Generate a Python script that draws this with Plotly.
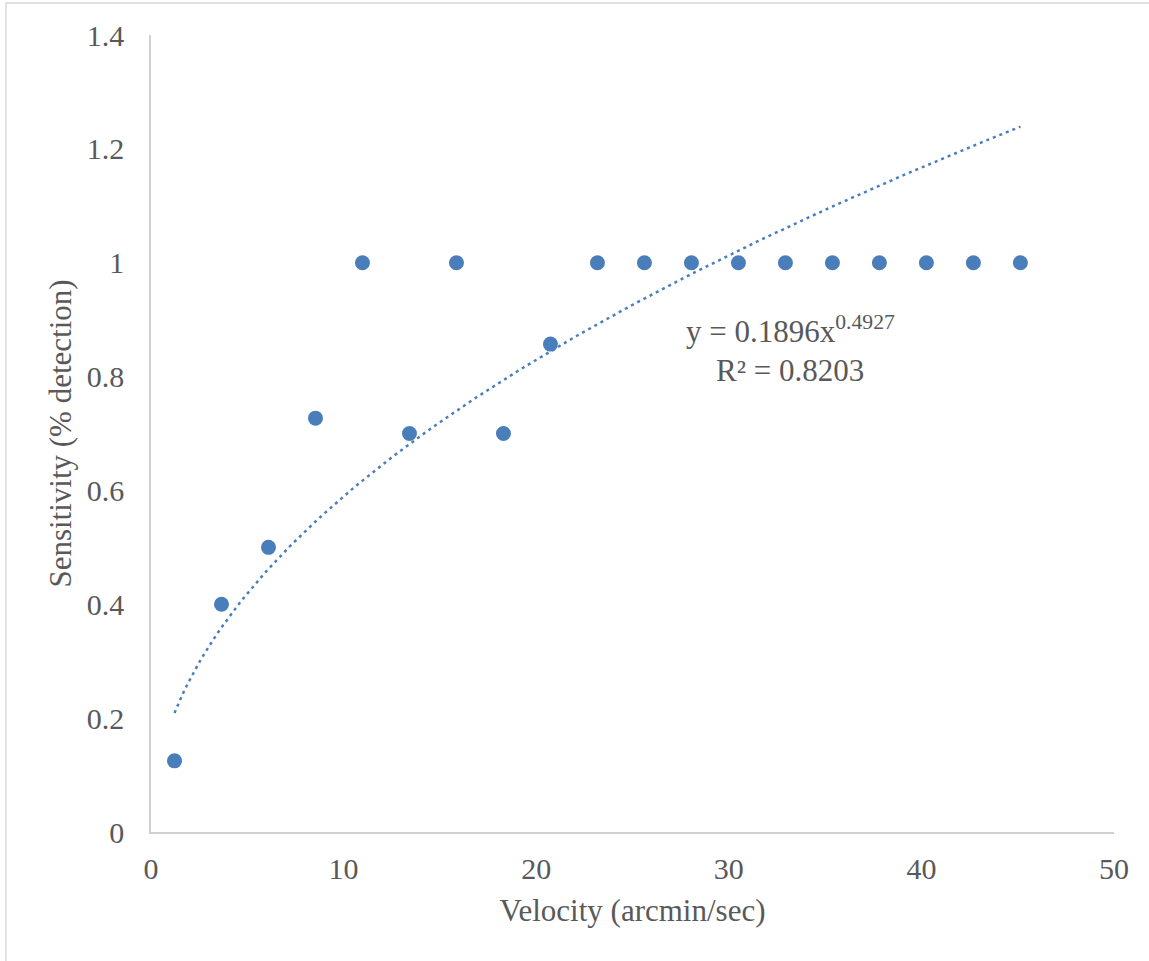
import numpy as np
import plotly.graph_objects as go

velocity = [1.22, 3.66, 6.10, 8.54, 10.98, 13.42, 15.86, 18.30, 20.74, 23.18,
            25.62, 28.06, 30.50, 32.94, 35.38, 37.82, 40.26, 42.70, 45.14]
sensitivity = [0.125, 0.4, 0.5, 0.727, 1.0, 0.7, 1.0, 0.7, 0.857, 1.0,
               1.0, 1.0, 1.0, 1.0, 1.0, 1.0, 1.0, 1.0, 1.0]

# Power trendline as given in the chart: y = 0.1896 x^0.4927
coef_a = 0.1896
coef_b = 0.4927
trend_x = np.linspace(min(velocity), max(velocity), 200)
trend_y = coef_a * trend_x ** coef_b

x_ticks = [0, 10, 20, 30, 40, 50]
y_ticks = [0, 0.2, 0.4, 0.6, 0.8, 1, 1.2, 1.4]
y_tick_text = ["0", "0.2", "0.4", "0.6", "0.8", "1", "1.2", "1.4"]

color = "#4a7ebb"
font_family = "Liberation Serif"
text_color = "#595959"

fig = go.Figure()
fig.add_trace(go.Scatter(
    x=trend_x, y=trend_y, mode="lines",
    line=dict(color=color, width=2.5, dash="3px,4px"),
    hoverinfo="skip", showlegend=False))
fig.add_trace(go.Scatter(
    x=velocity, y=sensitivity, mode="markers",
    marker=dict(color=color, size=15, line=dict(width=0)),
    showlegend=False))

fig.add_annotation(
    x=33.2, y=0.846, xref="x", yref="y", yanchor="bottom",
    text="y = 0.1896x<sup>0.4927</sup>",
    showarrow=False, align="center", borderpad=0,
    font=dict(family=font_family, size=31, color=text_color))
fig.add_annotation(
    x=33.2, y=0.843, xref="x", yref="y", yanchor="top",
    text="R² = 0.8203",
    showarrow=False, align="center", borderpad=0,
    font=dict(family=font_family, size=31, color=text_color))

fig.update_layout(
    width=1149, height=961,
    margin=dict(l=151, r=35, t=35, b=129),
    paper_bgcolor="white", plot_bgcolor="white",
    font=dict(family=font_family, size=31, color=text_color),
    xaxis=dict(range=[0, 50], tickvals=x_ticks, showgrid=False, zeroline=False,
               showline=True, linecolor="#d0d0d0", linewidth=1.5, ticks="",
               ticklen=0, ticklabelstandoff=9,
               title=dict(text="Velocity (arcmin/sec)",
                          font=dict(family=font_family, size=31, color=text_color),
                          standoff=16),
               tickfont=dict(family=font_family, size=30, color=text_color)),
    yaxis=dict(range=[0, 1.4], tickvals=y_ticks, ticktext=y_tick_text,
               showgrid=False, zeroline=False, showline=True,
               linecolor="#d0d0d0", linewidth=1.5, ticks="", ticklen=0,
               ticklabelstandoff=19,
               title=dict(text="Sensitivity (% detection)",
                          font=dict(family=font_family, size=31, color=text_color),
                          standoff=6),
               tickfont=dict(family=font_family, size=30, color=text_color)),
)
fig.add_shape(type="rect", xref="paper", yref="paper",
              x0=-145/963, y0=-140/797, x1=1.1, y1=1 + 32/797,
              line=dict(color="#d9d9d9", width=1.5), layer="below")
fig.write_html("out.html")
